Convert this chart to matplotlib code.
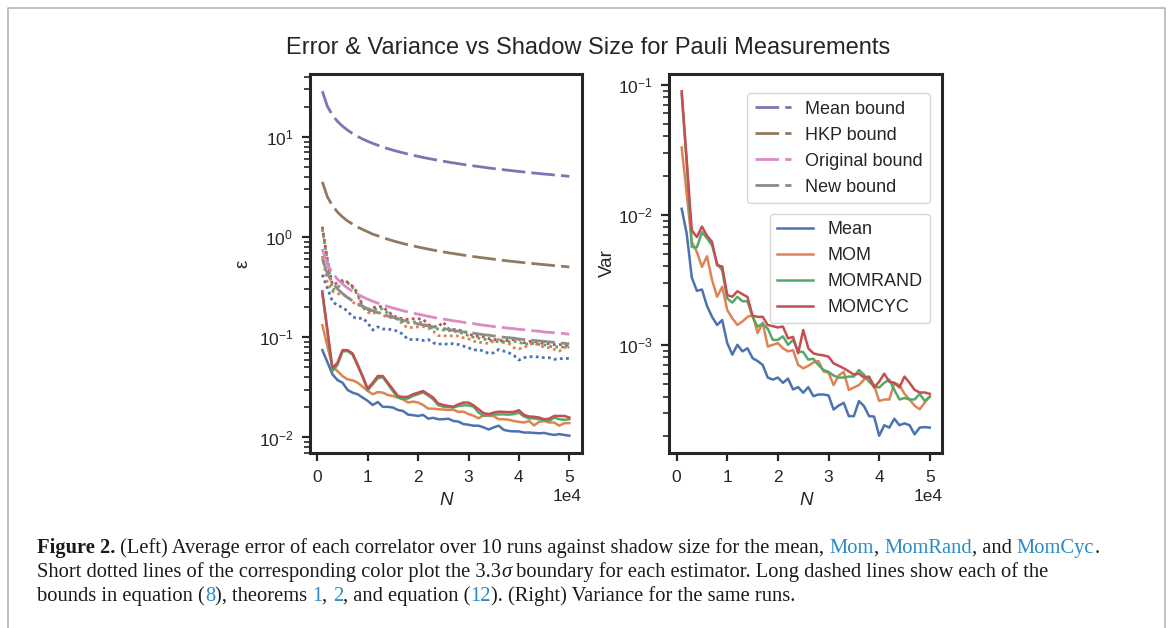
import matplotlib
matplotlib.use('Agg')
import matplotlib.pyplot as plt
from matplotlib.lines import Line2D

plt.rcParams['font.family'] = ['Liberation Sans', 'DejaVu Sans']
plt.rcParams['text.color'] = '#262626'
plt.rcParams['axes.labelcolor'] = '#262626'
plt.rcParams['xtick.color'] = '#262626'
plt.rcParams['ytick.color'] = '#262626'

# shadow sizes
shadow_sizes = list(range(1000, 50001, 1000))

# average error of each estimator (left)
eps_mean = [0.0744, 0.0566, 0.0427, 0.0374, 0.0352, 0.0298, 0.0280, 0.0270, 0.0250, 0.0232,
            0.0211, 0.0226, 0.0202, 0.0202, 0.0199, 0.0188, 0.0184, 0.0169, 0.0167, 0.0164,
            0.0168, 0.0154, 0.0157, 0.0152, 0.0152, 0.0154, 0.0146, 0.0144, 0.0136, 0.0134,
            0.0131, 0.0131, 0.0126, 0.0120, 0.0126, 0.0131, 0.0119, 0.0116, 0.0115, 0.0115,
            0.0112, 0.0112, 0.0111, 0.0110, 0.0111, 0.0108, 0.0106, 0.0108, 0.0106, 0.0104]
eps_mom = [0.132, 0.0817, 0.0516, 0.0460, 0.0410, 0.0380, 0.0372, 0.0352, 0.0321, 0.0291,
           0.0270, 0.0284, 0.0280, 0.0265, 0.0259, 0.0250, 0.0240, 0.0223, 0.0228, 0.0223,
           0.0211, 0.0194, 0.0194, 0.0191, 0.0190, 0.0188, 0.0189, 0.0180, 0.0181, 0.0171,
           0.0165, 0.0155, 0.0167, 0.0165, 0.0163, 0.0152, 0.0152, 0.0150, 0.0146, 0.0143,
           0.0141, 0.0146, 0.0132, 0.0143, 0.0146, 0.0141, 0.0141, 0.0131, 0.0139, 0.0139]
eps_momrand = [0.27, 0.115, 0.046, 0.053, 0.072, 0.073, 0.067, 0.052, 0.040, 0.0295,
               0.034, 0.039, 0.040, 0.034, 0.029, 0.0250, 0.0242, 0.0245, 0.0260, 0.0270,
               0.0282, 0.0262, 0.0240, 0.0210, 0.0203, 0.0201, 0.0199, 0.0206, 0.0209, 0.0209,
               0.0203, 0.0177, 0.0164, 0.0166, 0.0169, 0.0170, 0.0170, 0.0169, 0.0171, 0.0177,
               0.0162, 0.0155, 0.0155, 0.0152, 0.0150, 0.0146, 0.0158, 0.0152, 0.0150, 0.0152]
eps_momcyc = [0.288, 0.120, 0.049, 0.0557, 0.0744, 0.0744, 0.069, 0.0536, 0.041, 0.0307,
              0.0352, 0.041, 0.041, 0.0352, 0.0303, 0.0259, 0.0253, 0.0255, 0.0270, 0.0280,
              0.0291, 0.0270, 0.0250, 0.0218, 0.0211, 0.0206, 0.0203, 0.0214, 0.0223, 0.0223,
              0.0209, 0.0191, 0.0175, 0.0171, 0.0177, 0.0181, 0.0180, 0.0179, 0.0180, 0.0187,
              0.0168, 0.0162, 0.0161, 0.0158, 0.0152, 0.0154, 0.0164, 0.0164, 0.0164, 0.0158]

# 3.3 sigma boundaries (dotted)
sig_mean = [0.421, 0.310, 0.229, 0.207, 0.200, 0.182, 0.160, 0.153, 0.156, 0.139,
            0.118, 0.127, 0.121, 0.121, 0.118, 0.115, 0.107, 0.095, 0.095, 0.095,
            0.093, 0.095, 0.088, 0.085, 0.0867, 0.0847, 0.0867, 0.0847, 0.0816, 0.0786,
            0.0744, 0.0755, 0.0727, 0.0690, 0.0700, 0.0755, 0.0727, 0.0700, 0.0659, 0.0592,
            0.0625, 0.0640, 0.0640, 0.0635, 0.0625, 0.0625, 0.0602, 0.0610, 0.0615, 0.0615]
sig_mom = [0.65, 0.348, 0.288, 0.273, 0.267, 0.257, 0.224, 0.212, 0.201, 0.178,
           0.171, 0.182, 0.165, 0.160, 0.156, 0.153, 0.134, 0.124, 0.126, 0.127,
           0.128, 0.124, 0.115, 0.104, 0.104, 0.1026, 0.104, 0.1026, 0.0988, 0.0966,
           0.0914, 0.0894, 0.088, 0.0868, 0.0914, 0.0951, 0.0908, 0.0868, 0.0786, 0.0768,
           0.0786, 0.0847, 0.088, 0.0828, 0.0797, 0.0786, 0.0757, 0.0729, 0.0786, 0.0816]
sig_momrand = [1.2, 0.58, 0.30, 0.31, 0.36, 0.35, 0.315, 0.265, 0.200, 0.182,
               0.186, 0.193, 0.191, 0.174, 0.160, 0.150, 0.143, 0.140, 0.142, 0.142,
               0.138, 0.128, 0.123, 0.121, 0.118, 0.117, 0.116, 0.112, 0.109, 0.104,
               0.100, 0.098, 0.096, 0.094, 0.091, 0.090, 0.089, 0.090, 0.091, 0.090,
               0.085, 0.086, 0.087, 0.085, 0.084, 0.082, 0.079, 0.081, 0.079, 0.080]
sig_momcyc = [1.27, 0.60, 0.335, 0.348, 0.370, 0.355, 0.323, 0.277, 0.204, 0.189,
              0.196, 0.204, 0.201, 0.182, 0.165, 0.156, 0.153, 0.151, 0.153, 0.153,
              0.151, 0.134, 0.128, 0.128, 0.142, 0.121, 0.120, 0.118, 0.116, 0.109,
              0.1026, 0.1026, 0.101, 0.097, 0.0951, 0.094, 0.0914, 0.094, 0.0951, 0.0951,
              0.088, 0.0908, 0.0914, 0.088, 0.0868, 0.086, 0.0847, 0.0847, 0.0828, 0.084]

# theoretical bounds (long dashed)
bound_mean = [28.6, 20.2, 16.5, 14.3, 12.8, 11.7, 10.8, 10.1, 9.53, 9.04,
              8.62, 8.26, 7.93, 7.64, 7.38, 7.15, 6.94, 6.74, 6.56, 6.40,
              6.24, 6.10, 5.96, 5.84, 5.72, 5.61, 5.50, 5.41, 5.31, 5.22,
              5.14, 5.06, 4.98, 4.90, 4.83, 4.77, 4.70, 4.64, 4.58, 4.52,
              4.47, 4.41, 4.36, 4.31, 4.26, 4.22, 4.17, 4.13, 4.09, 4.04]
bound_hkp = [3.56, 2.52, 2.06, 1.78, 1.59, 1.45, 1.35, 1.26, 1.19, 1.13,
             1.07, 1.03, 0.988, 0.952, 0.919, 0.890, 0.863, 0.839, 0.817, 0.796,
             0.777, 0.759, 0.742, 0.727, 0.712, 0.698, 0.685, 0.673, 0.661, 0.650,
             0.639, 0.629, 0.620, 0.611, 0.602, 0.593, 0.585, 0.577, 0.570, 0.563,
             0.556, 0.549, 0.543, 0.537, 0.531, 0.525, 0.519, 0.514, 0.509, 0.503]
bound_orig = [0.76, 0.537, 0.439, 0.38, 0.340, 0.310, 0.287, 0.269, 0.253, 0.240,
              0.229, 0.219, 0.211, 0.203, 0.196, 0.19, 0.184, 0.179, 0.174, 0.170,
              0.166, 0.162, 0.158, 0.155, 0.152, 0.149, 0.146, 0.144, 0.141, 0.139,
              0.137, 0.134, 0.132, 0.130, 0.128, 0.127, 0.125, 0.123, 0.122, 0.120,
              0.119, 0.117, 0.116, 0.115, 0.113, 0.112, 0.111, 0.110, 0.109, 0.107]
bound_new = [0.61, 0.431, 0.352, 0.305, 0.273, 0.249, 0.231, 0.216, 0.203, 0.193,
             0.184, 0.176, 0.169, 0.163, 0.158, 0.153, 0.148, 0.144, 0.140, 0.136,
             0.133, 0.130, 0.127, 0.125, 0.122, 0.120, 0.117, 0.115, 0.113, 0.111,
             0.110, 0.108, 0.106, 0.105, 0.103, 0.102, 0.100, 0.099, 0.098, 0.096,
             0.095, 0.094, 0.093, 0.092, 0.091, 0.090, 0.089, 0.088, 0.087, 0.086]

# variance (right)
var_mean = [0.0111, 0.00713, 0.00329, 0.00260, 0.00266, 0.00199, 0.00164, 0.00142, 0.00155, 0.00103,
            0.00084, 0.00100, 0.00089, 0.00094, 0.00079, 0.00075, 0.00070, 0.00056, 0.00054, 0.00056,
            0.00051, 0.00055, 0.000453, 0.000473, 0.000428, 0.000473, 0.000403, 0.000415, 0.000415, 0.000408,
            0.000318, 0.000341, 0.000358, 0.000283, 0.000283, 0.000369, 0.000338, 0.000283, 0.000281, 0.000200,
            0.000241, 0.000231, 0.000270, 0.000241, 0.000249, 0.000241, 0.000205, 0.000231, 0.000233, 0.000231]
var_mom = [0.0328, 0.0144, 0.00617, 0.00517, 0.00397, 0.00479, 0.00314, 0.00234, 0.00279, 0.00185,
           0.00160, 0.00142, 0.00151, 0.00164, 0.00169, 0.00123, 0.00148, 0.00097, 0.00100, 0.00103,
           0.00094, 0.00089, 0.00091, 0.00070, 0.00066, 0.00069, 0.00073, 0.00075, 0.000625, 0.00061,
           0.00049, 0.00058, 0.00062, 0.00045, 0.00047, 0.00049, 0.00054, 0.00056, 0.00049, 0.00037,
           0.00038, 0.00038, 0.00051, 0.00049, 0.00042, 0.00038, 0.00034, 0.00032, 0.00036, 0.00040]
var_momrand = [0.085, 0.025, 0.00565, 0.0056, 0.00734, 0.0066, 0.0058, 0.00421, 0.00374, 0.00227,
               0.00211, 0.00234, 0.00216, 0.00216, 0.00164, 0.00138, 0.00145, 0.00133, 0.00109, 0.00109,
               0.00116, 0.00100, 0.00109, 0.00089, 0.00088, 0.00077, 0.00078, 0.00070, 0.00064, 0.00062,
               0.00058, 0.00056, 0.00056, 0.00057, 0.00057, 0.00064, 0.00059, 0.00052, 0.00048, 0.00047,
               0.00051, 0.00054, 0.00045, 0.00038, 0.00039, 0.00038, 0.00038, 0.00042, 0.00037, 0.00040]
var_momcyc = [0.0889, 0.026, 0.00757, 0.00673, 0.00811, 0.0069, 0.00617, 0.00408, 0.00400, 0.00241,
              0.00234, 0.00258, 0.00245, 0.00233, 0.00167, 0.00164, 0.00164, 0.00142, 0.00139, 0.00136,
              0.00138, 0.00112, 0.00115, 0.00086, 0.00130, 0.00094, 0.00086, 0.00084, 0.00083, 0.00081,
              0.00072, 0.00069, 0.00066, 0.000625, 0.00059, 0.00060, 0.00056, 0.00057, 0.00047, 0.00052,
              0.00060, 0.00052, 0.00051, 0.00047, 0.00057, 0.00051, 0.00045, 0.00043, 0.00043, 0.00042]

est_names = ['Mean', 'MOM', 'MOMRAND', 'MOMCYC']
bound_names = ['Mean bound', 'HKP bound', 'Original bound', 'New bound']
est_colors = ['#4C72B0', '#DD8452', '#55A868', '#C44E52']
bound_colors = ['#8172B3', '#937860', '#DA8BC3', '#8C8C8C']

dark = '#262626'

fig = plt.figure(figsize=(11.68, 6.28), dpi=100)
ax1 = fig.add_axes([0.2654, 0.2787, 0.2326, 0.6035])
ax2 = fig.add_axes([0.5730, 0.2787, 0.2337, 0.6035])

# left: errors, sigma boundaries, bounds
for vals, c in zip([eps_mean, eps_mom, eps_momrand, eps_momcyc], est_colors):
    ax1.plot(shadow_sizes, vals, color=c, lw=1.8)
for vals, c in zip([sig_mean, sig_mom, sig_momrand, sig_momcyc], est_colors):
    ax1.plot(shadow_sizes, vals, color=c, lw=2.0, ls=(0, (1, 1.2)))
bound_lines = []
for vals, c, name in zip([bound_mean, bound_hkp, bound_orig, bound_new], bound_colors, bound_names):
    ln, = ax1.plot(shadow_sizes, vals, color=c, lw=2.0, dashes=(8.5, 2.2), label=name)
    bound_lines.append(ln)

# right: variance
est_lines = []
for vals, c, name in zip([var_mean, var_mom, var_momrand, var_momcyc], est_colors, est_names):
    ln, = ax2.plot(shadow_sizes, vals, color=c, lw=1.8, label=name)
    est_lines.append(ln)

for ax in (ax1, ax2):
    ax.set_yscale('log')
    ax.set_xticks([0, 10000, 20000, 30000, 40000, 50000])
    ax.ticklabel_format(axis='x', style='sci', scilimits=(0, 0))
    ax.xaxis.get_offset_text().set_fontsize(12.5)
    for sp in ax.spines.values():
        sp.set_linewidth(2.2)
        sp.set_color(dark)
    ax.tick_params(which='major', length=6, width=1.6, labelsize=12.5, colors=dark, pad=6)
    ax.tick_params(which='minor', length=4, width=1.2, colors=dark)
    ax.set_xlabel('N', fontsize=13.5, style='italic', labelpad=5)

ax1.set_ylabel('ε', fontsize=13.5, labelpad=5)
ax2.set_ylabel('Var', fontsize=13.5, labelpad=1)

leg1 = ax2.legend(handles=bound_lines, loc='upper right', bbox_to_anchor=(0.955, 0.949),
                  borderaxespad=0, fontsize=13, labelspacing=0.5, edgecolor='0.8')
ax2.add_artist(leg1)
ax2.legend(handles=est_lines, loc='upper right', bbox_to_anchor=(0.955, 0.631),
           borderaxespad=0, fontsize=13, labelspacing=0.5, edgecolor='0.8')

fig.text(588 / 1168, 1 - 48 / 628, 'Error & Variance vs Shadow Size for Pauli Measurements',
         ha='center', va='center', fontsize=17, color=dark)

# outer frame
fig.add_artist(Line2D([8 / 1168, 8 / 1168, 1165 / 1168, 1165 / 1168],
                      [0, 1 - 8 / 628, 1 - 8 / 628, 0],
                      transform=fig.transFigure, color='#b5b5b5', lw=1.2))

# caption with coloured references
cax = fig.add_axes([0, 0, 1, 1], zorder=-1)
cax.set_axis_off()
link = '#2a8ac4'
black = '#1a1a1a'
cap_font = dict(family=['Liberation Serif', 'DejaVu Serif'], fontsize=14.8)

caption = [
    [('Figure 2.', black, 'bold', 'normal'),
     (' (Left) Average error of each correlator over 10 runs against shadow size for the mean, ', black, 'normal', 'normal'),
     ('Mom', link, 'normal', 'normal'), (', ', black, 'normal', 'normal'),
     ('MomRand', link, 'normal', 'normal'), (', and ', black, 'normal', 'normal'),
     ('MomCyc', link, 'normal', 'normal'), ('.', black, 'normal', 'normal')],
    [('Short dotted lines of the corresponding color plot the 3.3', black, 'normal', 'normal'),
     ('σ', black, 'normal', 'italic'),
     ('\u00a0boundary for each estimator. Long dashed lines show each of the', black, 'normal', 'normal')],
    [('bounds in equation (', black, 'normal', 'normal'), ('8', link, 'normal', 'normal'),
     ('), theorems ', black, 'normal', 'normal'), ('1', link, 'normal', 'normal'),
     (', ', black, 'normal', 'normal'), ('2', link, 'normal', 'normal'),
     (', and equation (', black, 'normal', 'normal'), ('12', link, 'normal', 'normal'),
     ('). (Right) Variance for the same runs.', black, 'normal', 'normal')],
]
line_y = [553, 577, 601]
for parts, y in zip(caption, line_y):
    txt, c, w, st = parts[0]
    t = cax.text(37 / 1168, 1 - y / 628, txt, color=c, fontweight=w, style=st,
                 va='baseline', ha='left', transform=cax.transAxes, **cap_font)
    for txt, c, w, st in parts[1:]:
        t = cax.annotate(txt, xy=(1, 0), xycoords=t, va='bottom', ha='left',
                         color=c, fontweight=w, style=st, **cap_font)

fig.savefig('out.png', dpi=100)
